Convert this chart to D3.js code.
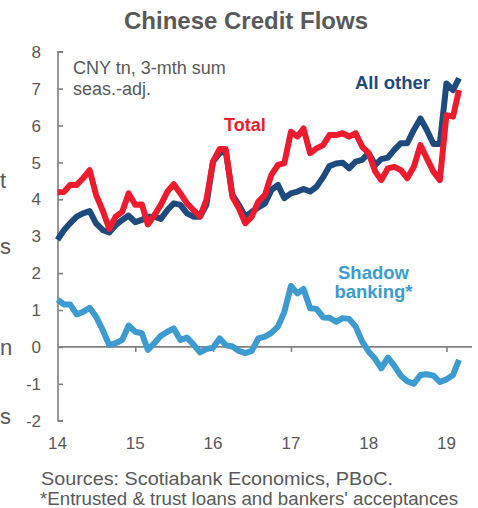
<!DOCTYPE html>
<html>
<head>
<meta charset="utf-8">
<script src="https://cdn.jsdelivr.net/npm/d3@7"></script>
<style>
  html, body { margin: 0; padding: 0; background: #fff; }
  svg { display: block; font-family: Arial, "Liberation Sans", sans-serif; }
</style>
</head>
<body>
<svg id="chart" width="478" height="508"></svg>
<script>
// Monthly 3-month sums, seasonally adjusted, CNY tn (Jan 2014 – Mar 2019)
const startMonth = new Date(2014, 0, 1);
const total = [4.19,4.20,4.39,4.39,4.57,4.79,4.12,3.70,3.20,3.53,
               3.66,4.16,3.85,3.86,3.32,3.57,3.85,4.21,4.41,4.16,
               3.89,3.71,3.53,3.98,5.02,5.36,5.36,4.07,3.76,3.35,
               3.53,3.94,4.12,4.66,4.93,4.98,5.83,5.70,5.92,5.25,
               5.38,5.47,5.74,5.74,5.79,5.70,5.79,5.43,5.25,4.75,
               4.52,4.84,4.88,4.79,4.57,4.88,5.47,5.11,4.75,4.52,
               6.28,6.24,6.96];
const allOther = [2.90,3.17,3.35,3.53,3.62,3.68,3.35,3.17,3.10,3.30,
                  3.44,3.56,3.38,3.44,3.53,3.53,3.47,3.71,3.89,3.85,
                  3.62,3.53,3.53,3.85,5.02,5.25,5.30,4.12,3.85,3.53,
                  3.66,3.78,3.89,4.25,4.39,4.03,4.16,4.21,4.28,4.21,
                  4.34,4.60,4.90,4.97,4.99,4.84,5.02,5.07,5.25,4.93,
                  5.09,5.13,5.34,5.52,5.52,5.88,6.19,5.88,5.50,5.50,
                  7.14,6.96,7.28];
const shadowBanking = [1.28,1.15,1.15,0.88,0.95,1.06,0.82,0.46,0.05,0.10,
                       0.19,0.58,0.41,0.37,-0.08,0.10,0.30,0.41,0.50,0.19,
                       0.25,0.07,-0.15,-0.06,-0.02,0.23,0.05,0.01,-0.11,-0.17,
                       -0.11,0.23,0.28,0.38,0.55,0.95,1.65,1.45,1.57,1.05,
                       1.03,0.80,0.79,0.68,0.78,0.76,0.55,0.15,-0.13,-0.33,
                       -0.58,-0.29,-0.51,-0.78,-0.93,-1.00,-0.76,-0.74,-0.78,-0.95,
                       -0.88,-0.76,-0.35];
const yTicks = [-2,-1,0,1,2,3,4,5,6,7,8];
const xTickYears = [2014,2015,2016,2017,2018,2019];

const svg = d3.select("#chart");
const grey = "#595959", axisGrey = "#7f7f7f";
const red = "#ec1c2e", navy = "#1f4a7e", sky = "#3d9bd0";

const x = d3.scaleTime()
  .domain([new Date(2014, 0, 1), new Date(2019, 4, 1)])
  .range([57.5, 472]);
const y = d3.scaleLinear().domain([-2, 8]).range([420.7, 51.7]);

const dateAt = i => d3.timeMonth.offset(startMonth, i);

// Title
svg.append("text").attr("x", 246).attr("y", 29)
  .attr("text-anchor", "middle").attr("font-weight", "bold")
  .attr("font-size", 24).attr("fill", grey).text("Chinese Credit Flows");

// Y axis
const yAxis = d3.axisRight(y).tickValues(yTicks).tickSize(5).tickFormat("");
const gy = svg.append("g").attr("transform", "translate(58,0)").call(yAxis);
gy.select(".domain").attr("d", `M5,${y(8)}H0V${y(-2)}H5`).attr("stroke", axisGrey).attr("stroke-width", 1.6);
gy.selectAll(".tick line").attr("stroke", axisGrey).attr("stroke-width", 1.6);
svg.append("g").selectAll("text").data(yTicks).join("text")
  .attr("x", 41).attr("y", d => y(d)).attr("dy", "0.36em")
  .attr("text-anchor", "end").attr("font-size", 17).attr("fill", grey)
  .text(d => d);

// X axis along zero
const xAxis = d3.axisBottom(x)
  .tickValues(xTickYears.slice(1).map(yr => new Date(yr, 0, 1)))
  .tickSize(5).tickFormat("");
const gx = svg.append("g").attr("transform", `translate(0,${y(0)})`).call(xAxis);
gx.select(".domain").attr("d", `M58,0H${x.range()[1]}`).attr("stroke", axisGrey).attr("stroke-width", 1.6);
gx.selectAll(".tick line").attr("stroke", axisGrey).attr("stroke-width", 1.6);
svg.append("g").selectAll("text").data(xTickYears).join("text")
  .attr("x", d => x(new Date(d, 0, 1))).attr("y", 449)
  .attr("text-anchor", "middle").attr("font-size", 17).attr("fill", grey)
  .text(d => String(d).slice(2));

// Series lines
const line = d3.line().x((d, i) => x(dateAt(i))).y(d => y(d)).curve(d3.curveLinear);
const series = [
  { values: shadowBanking, color: sky },
  { values: allOther, color: navy },
  { values: total, color: red }
];
svg.append("g").selectAll("path").data(series).join("path")
  .attr("d", d => line(d.values))
  .attr("fill", "none").attr("stroke", d => d.color)
  .attr("stroke-width", 6).attr("stroke-linejoin", "round");

// Unit note
svg.append("text").attr("x", 73).attr("y", 74).attr("font-size", 18).attr("fill", grey)
  .text("CNY tn, 3-mth sum");
svg.append("text").attr("x", 73).attr("y", 95).attr("font-size", 18).attr("fill", grey)
  .text("seas.-adj.");

// Series labels
svg.append("text").attr("x", 224).attr("y", 131).attr("font-size", 18)
  .attr("font-weight", "bold").attr("fill", red).text("Total");
svg.append("text").attr("x", 355).attr("y", 89).attr("font-size", 18.5)
  .attr("font-weight", "bold").attr("fill", navy).text("All other");
svg.append("text").attr("x", 373.5).attr("y", 279).attr("text-anchor", "middle")
  .attr("font-size", 18.5).attr("font-weight", "bold").attr("fill", sky).text("Shadow");
svg.append("text").attr("x", 373.5).attr("y", 298).attr("text-anchor", "middle")
  .attr("font-size", 18.5).attr("font-weight", "bold").attr("fill", sky).text("banking*");

// Footnotes
svg.append("text").attr("x", 41).attr("y", 485).attr("font-size", 18.7).attr("fill", grey)
  .attr("textLength", 352).attr("lengthAdjust", "spacingAndGlyphs")
  .text("Sources: Scotiabank Economics, PBoC.");
svg.append("text").attr("x", 40).attr("y", 505).attr("font-size", 18.7).attr("fill", grey)
  .attr("textLength", 418).attr("lengthAdjust", "spacingAndGlyphs")
  .text("*Entrusted & trust loans and bankers' acceptances");

// Trailing letters of the neighbouring text column
const sideLetters = [["t", 188], ["s", 254], ["n", 355], ["s", 424]];
svg.append("g").selectAll("text").data(sideLetters).join("text")
  .attr("x", 0).attr("y", d => d[1]).attr("text-anchor", "start")
  .attr("font-size", 22).attr("fill", grey).text(d => d[0]);
</script>
</body>
</html>
